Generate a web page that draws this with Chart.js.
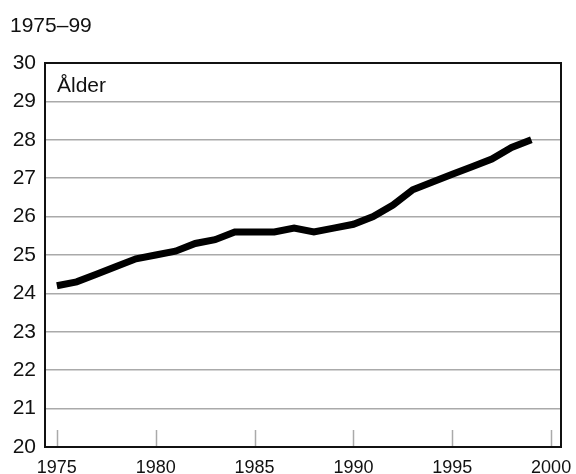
<!DOCTYPE html>
<html>
<head>
<meta charset="utf-8">
<script src="https://cdn.jsdelivr.net/npm/chart.js@4/dist/chart.umd.min.js"></script>
<style>
  body { margin: 0; background: #fff; }
  #wrap { width: 576px; height: 474px; }
</style>
</head>
<body>
<div id="wrap"><canvas id="chart" width="576" height="474"></canvas></div>
<script>
// years and mean age
var years = [1975, 1976, 1977, 1978, 1979, 1980, 1981, 1982, 1983, 1984, 1985, 1986, 1987,
  1988, 1989, 1990, 1991, 1992, 1993, 1994, 1995, 1996, 1997, 1998, 1999];
var ages = [24.2, 24.3, 24.5, 24.7, 24.9, 25.0, 25.1, 25.3, 25.4, 25.6, 25.6, 25.6, 25.7,
  25.6, 25.7, 25.8, 26.0, 26.3, 26.7, 26.9, 27.1, 27.3, 27.5, 27.8, 28.0];
var xTicks = [1975, 1980, 1985, 1990, 1995, 2000];
var titleText = '1975–99';
var yLabel = 'Ålder';

var fontName = '"Liberation Sans", Arial, sans-serif';

// title, inner label, frame and the short inward x ticks
var extras = {
  id: 'extras',
  afterDraw: function(chart) {
    var ctx = chart.ctx;
    var area = chart.chartArea;
    var x = chart.scales.x;
    ctx.save();
    ctx.strokeStyle = '#aaa';
    ctx.lineWidth = 1.5;
    xTicks.forEach(function(t) {
      var px = Math.round(x.getPixelForValue(t)) + 0.5;
      ctx.beginPath();
      ctx.moveTo(px, area.bottom);
      ctx.lineTo(px, area.bottom - 17);
      ctx.stroke();
    });
    ctx.strokeStyle = '#111';
    ctx.lineWidth = 2;
    ctx.strokeRect(area.left, area.top, area.right - area.left, area.bottom - area.top);
    ctx.fillStyle = '#111';
    ctx.font = '21px ' + fontName;
    ctx.textBaseline = 'alphabetic';
    ctx.textAlign = 'left';
    ctx.fillText(titleText, 10, 32);
    ctx.fillText(yLabel, area.left + 12, area.top + 29);
    ctx.restore();
  }
};

var points = years.map(function(y, i) { return { x: y, y: ages[i] }; });

new Chart(document.getElementById('chart'), {
  type: 'line',
  data: {
    datasets: [{
      data: points,
      borderColor: '#000',
      borderWidth: 7,
      borderCapStyle: 'butt',
      pointRadius: 0,
      tension: 0,
      fill: false
    }]
  },
  options: {
    responsive: false,
    animation: false,
    events: [],
    layout: { padding: { top: 63, right: 15, left: 0, bottom: 0 } },
    plugins: { legend: { display: false }, tooltip: { enabled: false } },
    scales: {
      x: {
        type: 'linear',
        min: 1974.4,
        max: 2000.5,
        afterBuildTicks: function(scale) {
          scale.ticks = xTicks.map(function(v) { return { value: v }; });
        },
        afterFit: function(scale) { scale.height = 27; },
        grid: { display: false },
        border: { display: false },
        ticks: {
          autoSkip: false,
          maxRotation: 0,
          padding: 2,
          color: '#111',
          font: { family: fontName, size: 18 },
          callback: function(v) { return String(v); }
        }
      },
      y: {
        min: 20,
        max: 30,
        afterFit: function(scale) { scale.width = 45; },
        grid: { color: '#aaa', lineWidth: 1.5, drawTicks: false },
        border: { display: false },
        ticks: {
          stepSize: 1,
          padding: 9,
          color: '#111',
          font: { family: fontName, size: 21 }
        }
      }
    }
  },
  plugins: [extras]
});
</script>
</body>
</html>
